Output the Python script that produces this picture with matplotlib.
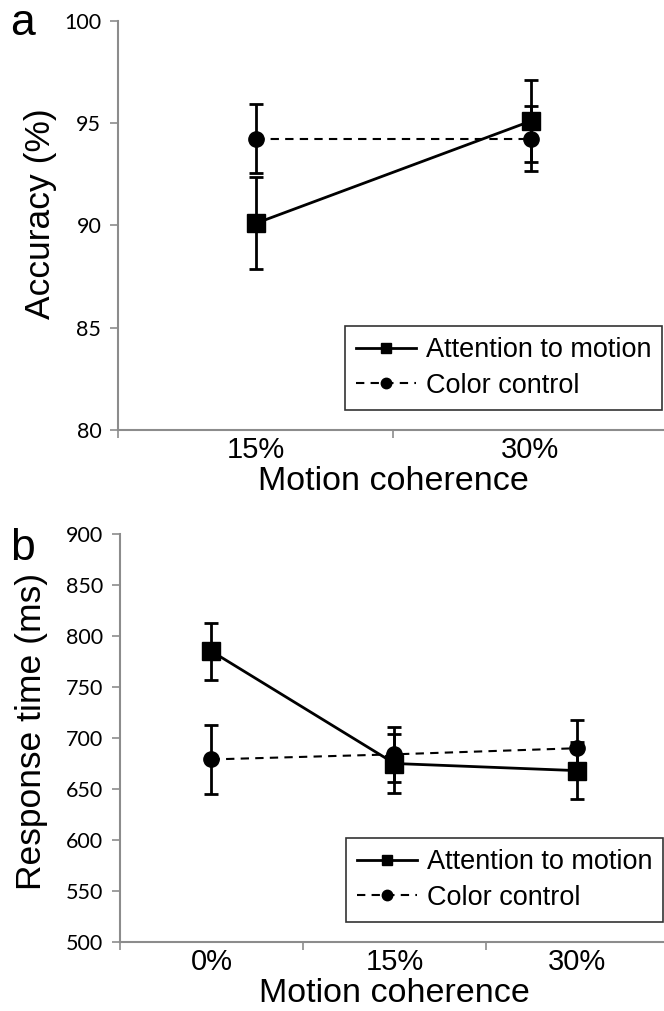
# Accuracy and response time vs motion coherence, two panels

import matplotlib
matplotlib.use("Agg")
import matplotlib.pyplot as plt
from matplotlib.lines import Line2D

# panel a: accuracy
coh_a = ["15%", "30%"]
acc_attn = [90.1, 95.1]
acc_attn_err = [2.25, 2.0]
acc_color = [94.25, 94.25]
acc_color_err = [1.7, 1.6]

# panel b: response time
coh_b = ["0%", "15%", "30%"]
rt_attn = [785, 675, 668]
rt_attn_err = [28, 29, 28]
rt_color = [679, 684, 690]
rt_color_err = [34, 27, 28]

GRAY = "#8c8c8c"
W, H = 664, 1011
DASH = (0, (4, 3))


def style_axis(ax, ncat, ylim, yticks):
    ax.set_xlim(-0.5, ncat - 0.5)
    ax.set_ylim(*ylim)
    ax.set_yticks(yticks)
    ax.set_yticklabels([str(t) for t in yticks], fontfamily="Lato", fontsize=15.5)
    # category labels between tick marks, like a spreadsheet chart
    ax.set_xticks([i - 0.5 for i in range(ncat + 1)])
    ax.set_xticklabels([])
    ax.tick_params(axis="x", which="minor", length=0, pad=4)
    ax.tick_params(axis="x", which="major", length=6, color=GRAY, width=1.2)
    ax.tick_params(axis="y", length=6, color=GRAY, width=1.2, pad=6)
    for side in ["top", "right"]:
        ax.spines[side].set_visible(False)
    for side in ["left", "bottom"]:
        ax.spines[side].set_color(GRAY)
        ax.spines[side].set_linewidth(1.5)
        ax.spines[side].set_clip_on(False)


def draw_panel(ax, cats, attn, attn_err, color, color_err):
    x = list(range(len(cats)))
    ax.errorbar(x, color, yerr=color_err, color="black", ls=DASH, lw=1.5,
                marker="o", ms=11, capsize=5, elinewidth=2, capthick=2,
                clip_on=False, zorder=3)
    ax.errorbar(x, attn, yerr=attn_err, color="black", ls="-", lw=2,
                marker="s", ms=13, capsize=5, elinewidth=2, capthick=2,
                clip_on=False, zorder=4)
    ax.set_xticks(x, minor=True)
    ax.set_xticklabels(cats, minor=True, fontsize=21)
    ax.set_xlabel("Motion coherence", fontsize=24.5, labelpad=2)
    handles = [
        Line2D([], [], color="black", lw=2, marker="s", ms=7.5),
        Line2D([], [], color="black", lw=1.5, ls=DASH, marker="o", ms=7.5),
    ]
    leg = ax.legend(handles, ["Attention to motion", "Color control"],
                    loc="lower right", fontsize=19.5, frameon=True,
                    fancybox=False, edgecolor="black", handlelength=2.2,
                    handletextpad=0.37, borderpad=0.4, labelspacing=0.35,
                    borderaxespad=0, bbox_to_anchor=(0.989, 0.05))
    leg.get_frame().set_linewidth(1.2)


plt.rcParams["font.family"] = ["Liberation Sans", "DejaVu Sans"]
fig = plt.figure(figsize=(W / 100, H / 100), dpi=100)

# axes placed in pixel units of the reference
ax_a = fig.add_axes([118 / W, 1 - 430 / H, 550 / W, 409 / H])
ax_b = fig.add_axes([120 / W, 1 - 942 / H, 549 / W, 408 / H])

style_axis(ax_a, len(coh_a), (80, 100), [80, 85, 90, 95, 100])
draw_panel(ax_a, coh_a, acc_attn, acc_attn_err, acc_color, acc_color_err)
ax_a.set_ylabel("Accuracy (%)", fontsize=25.5)
ax_a.yaxis.set_label_coords(-0.111, 0.528)

style_axis(ax_b, len(coh_b), (500, 900), list(range(500, 901, 50)))
draw_panel(ax_b, coh_b, rt_attn, rt_attn_err, rt_color, rt_color_err)
ax_b.set_ylabel("Response time (ms)", fontsize=25.5)
ax_b.yaxis.set_label_coords(-0.131, 0.516)

fig.text(10 / W, 1 - 35 / H, "a", fontsize=32)
fig.text(10 / W, 1 - 560 / H, "b", fontsize=32)

fig.savefig("out.png", dpi=100)
